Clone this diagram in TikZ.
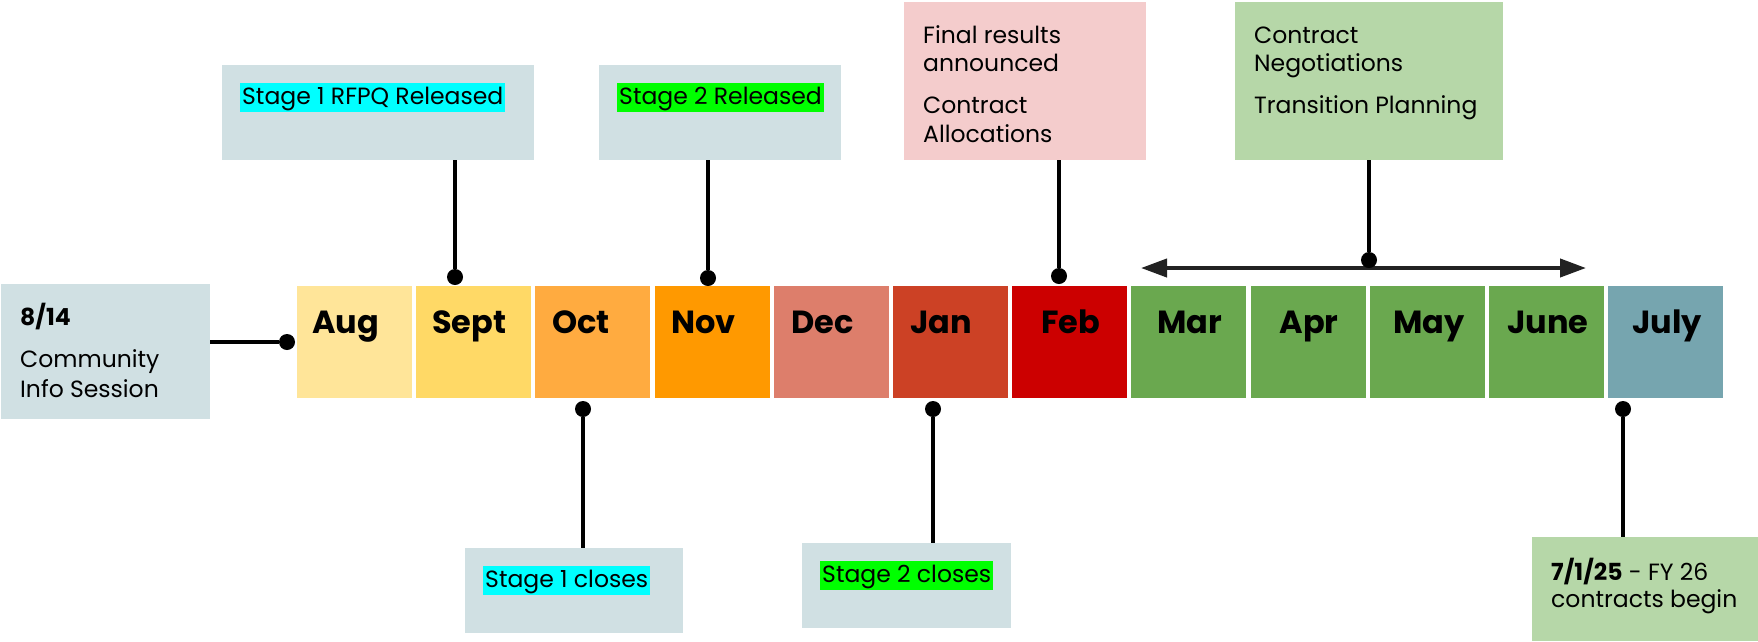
\documentclass[tikz,border=0pt]{standalone}
\usepackage{fontspec}
\setmainfont{Poppins}
\usetikzlibrary{arrows.meta}
\definecolor{cAug}{HTML}{FFE599}
\definecolor{cSep}{HTML}{FFD966}
\definecolor{cOct}{HTML}{FFAB40}
\definecolor{cNov}{HTML}{FF9900}
\definecolor{cDec}{HTML}{DD7E6B}
\definecolor{cJan}{HTML}{CC4125}
\definecolor{cFeb}{HTML}{CC0000}
\definecolor{cGrn}{HTML}{6AA84F}
\definecolor{cJul}{HTML}{76A5AF}
\definecolor{boxGrey}{HTML}{D0E0E3}
\definecolor{boxPink}{HTML}{F4CCCC}
\definecolor{boxGreen}{HTML}{B6D7A8}
\definecolor{hlCyan}{HTML}{00FFFF}
\definecolor{hlGreen}{HTML}{00FF00}
\definecolor{arrGrey}{HTML}{222222}
\begin{document}
\begin{tikzpicture}[x=1pt,y=-1pt,
  month/.style={rectangle,draw=none,inner sep=0pt,minimum width=115pt,minimum height=112pt},
  mlabel/.style={inner sep=0pt,font=\fontsize{32}{36}\selectfont\bfseries},
  infobox/.style={rectangle,draw=none,inner sep=0pt},
  txt/.style={inner sep=0pt,anchor=base west,font=\fontsize{23.5}{28}\selectfont},
  hl/.style={inner sep=0pt,inner xsep=2pt,text height=21pt,text depth=8pt,anchor=north west,font=\fontsize{23.5}{28}\selectfont},
  dot/.style={circle,fill=black,inner sep=0pt,minimum size=16pt},
  conn/.style={draw=black,line width=4pt},
  twoway/.style={draw=arrGrey,line width=4pt,{Triangle[length=26pt,width=18pt]}-{Triangle[length=26pt,width=18pt]}}
]
\useasboundingbox (0,0) rectangle (1758,641);

% month boxes
\node[month,fill=cAug] (m1) at (354.5,342) {};
\node[month,fill=cSep] (m2) at (473.7,342) {};
\node[month,fill=cOct] (m3) at (592.9,342) {};
\node[month,fill=cNov] (m4) at (712.1,342) {};
\node[month,fill=cDec] (m5) at (831.3,342) {};
\node[month,fill=cJan] (m6) at (950.5,342) {};
\node[month,fill=cFeb] (m7) at (1069.7,342) {};
\node[month,fill=cGrn] (m8) at (1188.9,342) {};
\node[month,fill=cGrn] (m9) at (1308.1,342) {};
\node[month,fill=cGrn] (m10) at (1427.3,342) {};
\node[month,fill=cGrn] (m11) at (1546.5,342) {};
\node[month,fill=cJul] (m12) at (1665.7,342) {};

% month labels
\node[mlabel,anchor=base west] (l1) at (312,333) {Aug};
\node[mlabel,anchor=base west] (l2) at (432,333) {Sept};
\node[mlabel,anchor=base west] (l3) at (552,333) {Oct};
\node[mlabel,anchor=base west] (l4) at (671,333) {Nov};
\node[mlabel,anchor=base west] (l5) at (791,333) {Dec};
\node[mlabel,anchor=base west] (l6) at (910,333) {Jan};
\node[mlabel,anchor=base] (l7) at (1070.5,333) {Feb};
\node[mlabel,anchor=base] (l8) at (1190,333) {Mar};
\node[mlabel,anchor=base] (l9) at (1309,333) {Apr};
\node[mlabel,anchor=base] (l10) at (1429,333) {May};
\node[mlabel,anchor=base] (l11) at (1548,333) {June};
\node[mlabel,anchor=base] (l12) at (1667,333) {July};

% info boxes
\node[infobox,fill=boxGrey,minimum width=209pt,minimum height=135pt] (b814) at (105.5,351.5) {};
\node[infobox,fill=boxGrey,minimum width=312pt,minimum height=95pt] (s1box) at (378,112.5) {};
\node[infobox,fill=boxGrey,minimum width=242pt,minimum height=95pt] (s2box) at (720,112.5) {};
\node[infobox,fill=boxPink,minimum width=242pt,minimum height=158pt] (fbox) at (1025,81) {};
\node[infobox,fill=boxGreen,minimum width=268pt,minimum height=158pt] (cbox) at (1369,81) {};
\node[infobox,fill=boxGrey,minimum width=218pt,minimum height=85pt] (c1box) at (574,590.5) {};
\node[infobox,fill=boxGrey,minimum width=209pt,minimum height=85pt] (c2box) at (906.5,585.5) {};
\node[infobox,fill=boxGreen,minimum width=226pt,minimum height=104pt] (jbox) at (1645,589) {};

% texts
\node[txt] (t814a) at (20,325) {\textbf{8/14}};
\node[txt] (t814b) at (20,367) {Community};
\node[txt] (t814c) at (20,397) {Info Session};
\node[hl,fill=hlCyan] (hs1) at (240,83) {Stage 1 RFPQ Released};
\node[hl,fill=hlGreen] (hs2) at (617,83) {Stage 2 Released};
\node[txt] (tfa) at (923,43) {Final results};
\node[txt] (tfb) at (923,71) {announced};
\node[txt] (tfc) at (923,113) {Contract};
\node[txt] (tfd) at (923,142) {Allocations};
\node[txt] (tca) at (1254,43) {Contract};
\node[txt] (tcb) at (1254,71) {Negotiations};
\node[txt] (tcc) at (1254,113) {Transition Planning};
\node[hl,fill=hlCyan] (hc1) at (483,566) {Stage 1 closes};
\node[hl,fill=hlGreen] (hc2) at (820,561) {Stage 2 closes};
\node[txt] (tja) at (1551,580) {\textbf{7/1/25} - FY 26};
\node[txt] (tjb) at (1551,607) {contracts begin};

% dots
\node[dot] (d0) at (287,342) {};
\node[dot] (d1) at (455,277) {};
\node[dot] (d3) at (583,409) {};
\node[dot] (d4) at (708,278) {};
\node[dot] (d5) at (933,409) {};
\node[dot] (d6) at (1059,276) {};
\node[dot] (d8) at (1623,409) {};

% double arrow
\coordinate (al) at (1141,268);
\coordinate (ar) at (1586,268);
\draw[twoway] (al) -- (ar);
\node[dot] (d7) at (1369,260) {};

% connectors
\draw[conn] (b814.east |- d0) -- (d0);
\draw[conn] (d1 |- s1box.south) -- (d1);
\draw[conn] (d4 |- s2box.south) -- (d4);
\draw[conn] (d6 |- fbox.south) -- (d6);
\draw[conn] (d7 |- cbox.south) -- (d7);
\draw[conn] (d3) -- (d3 |- c1box.north);
\draw[conn] (d5) -- (d5 |- c2box.north);
\draw[conn] (d8) -- (d8 |- jbox.north);
\end{tikzpicture}
\end{document}
